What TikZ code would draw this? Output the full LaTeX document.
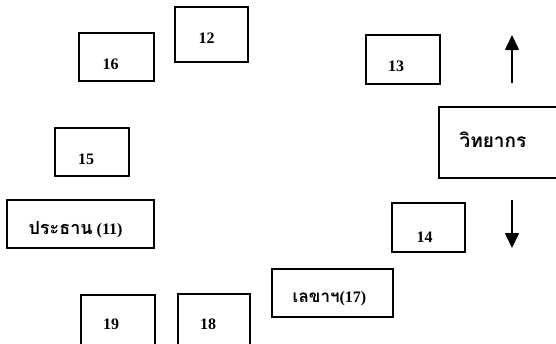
\documentclass[tikz,border=0pt]{standalone}
\usepackage{fontspec}
\setmainfont{Liberation Serif}
\newfontfamily\thai[Script=Thai]{Loma}
\usetikzlibrary{arrows.meta}
\begin{document}
\begin{tikzpicture}[x=1pt,y=-1pt,
  box/.style={draw,line width=1.5pt,inner sep=0pt},
  lbl/.style={font=\bfseries\fontsize{16}{18}\selectfont,inner sep=0pt},
  tlbl/.style={font=\bfseries\fontsize{16}{18}\selectfont,inner sep=0pt},
  arr/.style={line width=1.6pt,-{Triangle[width=14pt,length=15pt]}}]
\useasboundingbox (0,0) rectangle (556,343);
\clip (0,0) rectangle (556,343);
\fill[white] (0,0) rectangle (556,343);
\node[box,minimum width=75pt,minimum height=48pt,label={[lbl,xshift=-6pt,yshift=-7pt]center:16}] (n16) at (116.5,57) {};
\node[box,minimum width=73pt,minimum height=55pt,label={[lbl,xshift=-5pt,yshift=-4pt]center:12}] (n12) at (211.5,34.5) {};
\node[box,minimum width=74pt,minimum height=48pt,label={[lbl,xshift=-6pt,yshift=-7pt]center:15}] (n15) at (92,152) {};
\node[box,minimum width=74pt,minimum height=49pt,label={[lbl,xshift=-7pt,yshift=-7pt]center:13}] (n13) at (403,59.5) {};
\node[box,minimum width=73pt,minimum height=49pt,label={[lbl,xshift=-4pt,yshift=-10pt]center:14}] (n14) at (428.5,227.5) {};
\node[box,minimum width=74pt,minimum height=60pt] (n19) at (118,325) {};
\node[lbl] at (111,324) {19};
\node[box,minimum width=72pt,minimum height=60pt] (n18) at (214,324) {};
\node[lbl] at (208,324) {18};
\node[box,minimum width=131pt,minimum height=71pt] (nv) at (504.5,142.5) {};
\node[tlbl] at (493,140) {\thai\fontsize{19}{21}\selectfont วิทยากร};
\node[box,minimum width=147pt,minimum height=48pt,label={[tlbl,xshift=-5pt,yshift=-6pt]center:{\thai\fontsize{18}{20}\selectfont ประธาน} (11)}] (n11) at (80.5,224) {};
\node[box,minimum width=121pt,minimum height=48pt,label={[tlbl,xshift=-3pt,yshift=-6pt]center:{\thai\fontsize{17}{19}\selectfont เลขาฯ}(17)}] (n17) at (332.5,293) {};
\coordinate (ua) at (512,83);
\coordinate (ub) at (512,35);
\coordinate (da) at (512,200);
\coordinate (db) at (512,248);
\draw[arr] (ua) -- (ub);
\draw[arr] (da) -- (db);
\end{tikzpicture}
\end{document}
